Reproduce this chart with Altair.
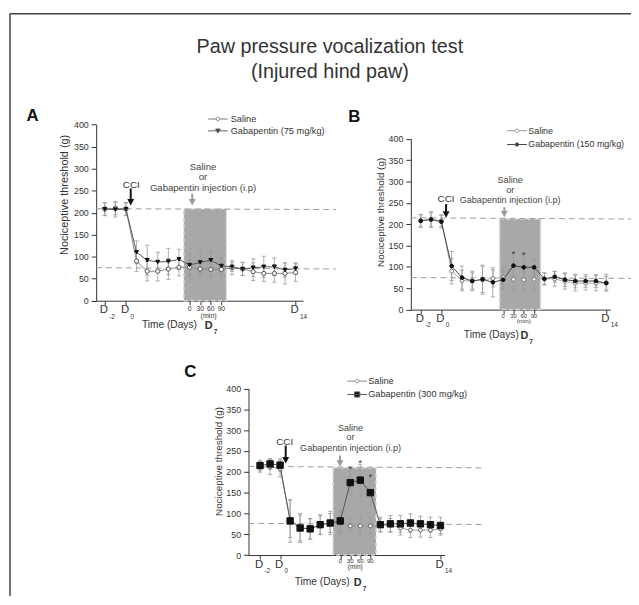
import altair as alt
import pandas as pd

FONT = "Liberation Sans"
TXT = "#333333"
AX = "#333333"

# ---- time course: index of each measured point along the x axis ----
X_IDX = list(range(19))
TIME_POINTS = ["D-2", "D-1", "D0", "D1", "D2", "D3", "D4", "D5",
               "0 min", "30 min", "60 min", "90 min",
               "D8", "D9", "D10", "D11", "D12", "D13", "D14"]

# ---- Panel A : Saline vs Gabapentin 75 mg/kg ----
A_SALINE = [208, 210, 208, 90, 67, 67, 72, 76, 76, 72, 71, 71, 75, 72, 66, 62, 62, 62, 64]
A_SALINE_ERR = [14, 15, 14, 24, 22, 22, 24, 20, 16, 16, 15, 18, 16, 15, 20, 18, 20, 24, 20]
A_GABA = [208, 207, 208, 110, 92, 88, 89, 94, 81, 87, 92, 79, 77, 72, 75, 77, 77, 70, 73]
A_GABA_ERR = [15, 17, 15, 26, 34, 22, 30, 23, 26, 23, 19, 18, 10, 15, 20, 24, 20, 16, 13]

# ---- Panel B : Saline vs Gabapentin 150 mg/kg ----
B_SALINE = [208, 211, 208, 90, 68, 67, 70, 73, 75, 71, 70, 71, 72, 72, 66, 62, 62, 62, 63]
B_SALINE_ERR = [14, 17, 14, 30, 24, 23, 34, 20, 26, 27, 26, 27, 14, 17, 18, 18, 16, 18, 20]
B_GABA = [208, 211, 206, 102, 75, 67, 71, 64, 70, 103, 99, 99, 72, 77, 70, 67, 67, 67, 62]
B_GABA_ERR = [15, 18, 15, 34, 27, 19, 31, 34, 20, 26, 26, 18, 14, 13, 16, 16, 15, 15, 16]
B_STARS_X = [9, 10]
B_STARS_Y = [136, 133]

# ---- Panel C : Saline vs Gabapentin 300 mg/kg ----
C_SALINE = [212, 212, 208, 87, 65, 63, 72, 77, 77, 70, 70, 70, 72, 72, 65, 60, 60, 60, 63]
C_SALINE_ERR = [13, 18, 20, 45, 31, 25, 22, 23, 27, 16, 20, 20, 15, 16, 17, 18, 17, 18, 15]
C_GABA = [215, 219, 216, 82, 65, 63, 73, 77, 82, 174, 180, 150, 73, 75, 75, 77, 75, 73, 71]
C_GABA_ERR = [13, 13, 15, 51, 35, 24, 24, 28, 27, 28, 38, 30, 18, 20, 20, 22, 18, 18, 20]
C_STARS_X = [9, 10, 11]
C_STARS_Y = [212, 226, 194]

# ---- axis label texts ----
DAY_TICKS_X = [0, 2, 18]
DAY_SUBSCRIPTS = ["-2", "0", "14"]
MIN_TICKS_X = [8, 9, 10, 11]
MIN_LABELS = ["0", "30", "60", "90"]
INJ_LINES = ["Saline", "or", "Gabapentin injection (i.p)"]

# legend symbol paths (line with marker)
P_OPEN = "M-2.5,0H-0.5M0.5,0H2.5M0.45,0A0.45,0.45,0,1,1,-0.45,0A0.45,0.45,0,1,1,0.45,0Z"
P_TRI = "M-2.5,0H2.5M-0.6,-0.45L0.6,-0.45L0,0.55Z"
P_DOT = "M-2.5,0H2.5M0.4,0A0.4,0.4,0,1,1,-0.4,0A0.4,0.4,0,1,1,0.4,0Z"
P_SQ = "M-2.5,0H2.5M-0.65,-0.65H0.65V0.65H-0.65Z"
HEAD = "M-1,-1.9L1,-1.9L0,0Z"
CAP = "M-1,0H1"

PANELS = [
    dict(letter="A", letter_pos=(-7.38, 408),
         xdom=[-0.81, 18.7], xr=[87.3, 296.8], yr=[290.7, 112.3],
         xoff=-295.3, yoff=-87.3, yt=(-32.3, 183, 11),
         shade=(7.46, 11.46, 208.5),
         ref=[(-0.81, 21.8, 209, 207), (-0.81, 21.8, 75, 72)],
         series=[
             dict(name="Saline", v=A_SALINE, e=A_SALINE_ERR, shape="circle", size=18,
                  fill="white", stroke="#555555", line="#8a8a8a", leg=P_OPEN, legfill="white", legstroke="#777777"),
             dict(name="Gabapentin (75 mg/kg)", v=A_GABA, e=A_GABA_ERR, shape="triangle-down", size=16,
                  fill="#111111", stroke="#111111", line="#555555", leg=P_TRI, legfill="#111111", legstroke="#666666"),
         ],
         stars=([], []),
         cci=(2.5, 262), arrow_black=(2.45, 255, 216), arrow_gray=(8.25, 243, 216),
         inj_x=9.27, inj_y=[303, 281, 257], inj_fs=9.7,
         offs=dict(D=9.3, sub=16.5, mins=8.3, mn=15, d7=25.5, time=24.3),
         fs=dict(mins=6.8, mn=7.2),
         time_x=6.1, d7_x=9.9, min_x=9.8,
         legend=dict(x=206, y=102, lo=8.3, rp=2, fs=9.3)),
    dict(letter="B", letter_pos=(-7.02, 439),
         xdom=[-0.96, 18.4], xr=[406, 608.1], yr=[299.7, 126.7],
         xoff=-286.3, yoff=-406, yt=(-30.2, 200.7, 10),
         shade=(7.66, 11.62, 212),
         ref=[(-0.96, 20.6, 215, 212), (-0.96, 20.6, 75, 73)],
         series=[
             dict(name="Saline", v=B_SALINE, e=B_SALINE_ERR, shape="circle", size=16,
                  fill="white", stroke="#777777", line="#aaaaaa", leg=P_OPEN, legfill="white", legstroke="#999999"),
             dict(name="Gabapentin (150 mg/kg)", v=B_GABA, e=B_GABA_ERR, shape="circle", size=14,
                  fill="#111111", stroke="#111111", line="#444444", leg=P_DOT, legfill="#111111", legstroke="#444444"),
         ],
         stars=(B_STARS_X, B_STARS_Y),
         cci=(2.46, 258), arrow_black=(2.46, 247, 215), arrow_gray=(8.11, 240, 216),
         inj_x=8.68, inj_y=[303, 281, 257], inj_fs=9.2,
         offs=dict(D=9.3, sub=15.6, mins=6.2, mn=12, d7=27, time=26),
         fs=dict(mins=5.8, mn=6.3),
         time_x=6.85, d7_x=10.15, min_x=10.0,
         legend=dict(x=509, y=114, lo=7, rp=4, fs=9.0)),
    dict(letter="C", letter_pos=(-7.55, 429),
         xdom=[-1.15, 18.4], xr=[241.6, 440.1], yr=[548.3, 379.7],
         xoff=-37.7, yoff=-241.6, yt=(-29.9, 453, 10),
         shade=(7.29, 11.57, 209.5),
         ref=[(-1.15, 22.3, 213, 209.5), (-1.15, 22.3, 76, 73.5)],
         series=[
             dict(name="Saline", v=C_SALINE, e=C_SALINE_ERR, shape="circle", size=15,
                  fill="white", stroke="#666666", line="#999999", leg=P_OPEN, legfill="white", legstroke="#888888"),
             dict(name="Gabapentin (300 mg/kg)", v=C_GABA, e=C_GABA_ERR, shape="square", size=42,
                  fill="#111111", stroke="#111111", line="#555555", leg=P_SQ, legfill="#111111", legstroke="#555555"),
         ],
         stars=(C_STARS_X, C_STARS_Y),
         cci=(2.46, 272), arrow_black=(2.56, 263, 220), arrow_gray=(7.98, 239, 212),
         inj_x=9.03, inj_y=[306, 283, 257], inj_fs=9.2,
         offs=dict(D=10, sub=15.7, mins=6.3, mn=12.6, d7=28, time=27.3),
         fs=dict(mins=6.2, mn=6.6),
         time_x=6.2, d7_x=9.85, min_x=9.5,
         legend=dict(x=347, y=367.5, lo=6.5, rp=3.5, fs=9.3)),
]


def text_layer(df, xs, ys, color=TXT, **kw):
    return alt.Chart(df).mark_text(font=FONT, color=color, **kw).encode(
        x=alt.X("x:Q", scale=xs, axis=None),
        y=alt.Y("y:Q", scale=ys, axis=None),
        text="t:N")


def panel(P):
    xs = alt.Scale(domain=P["xdom"], range=P["xr"], nice=False, zero=False)
    ys = alt.Scale(domain=[0, 400], range=P["yr"], nice=False, zero=False)

    def ex(f):
        return alt.X(f"{f}:Q", scale=xs, axis=None)

    def ey(f):
        return alt.Y(f"{f}:Q", scale=ys, axis=None)

    L = []
    xaxis = alt.Axis(orient="bottom", offset=P["xoff"], values=[0, 2, 8, 9, 10, 11, 18],
                     labels=False, title=None, grid=False, tickSize=4, tickColor=AX,
                     domainColor=AX, domainWidth=1, tickWidth=1)
    yaxis = alt.Axis(orient="left", offset=P["yoff"], values=list(range(0, 401, 50)), grid=False,
                     tickSize=5, labelPadding=3, labelFontSize=9, labelFont=FONT, labelColor=TXT,
                     tickColor=AX, domainColor=AX, domainWidth=1, tickWidth=1,
                     title="Nociceptive threshold (g)", titleFont=FONT, titleFontSize=P["yt"][2],
                     titleFontWeight="normal", titleColor=TXT, titleX=P["yt"][0], titleY=P["yt"][1],
                     titleBaseline="middle", titleAlign="center", titleAngle=270)
    sh = pd.DataFrame({"x0": [P["shade"][0]], "x1": [P["shade"][1]], "y0": [0], "y1": [P["shade"][2]]})
    L.append(alt.Chart(sh).mark_rect(fill="#a8a8a8", stroke="#d6d6d6", strokeDash=[4, 3],
                                     strokeWidth=1.5).encode(
        x=ex("x0"), x2="x1:Q", y=ey("y0"), y2="y1:Q"))
    # axes carrier layer
    axdf = pd.DataFrame({"x": [P["xdom"][0]], "y": [0]})
    L.append(alt.Chart(axdf).mark_point(opacity=0, size=1).encode(
        x=alt.X("x:Q", scale=xs, axis=xaxis), y=alt.Y("y:Q", scale=ys, axis=yaxis)))

    ref = pd.DataFrame(P["ref"], columns=["x0", "x1", "y0", "y1"])
    L.append(alt.Chart(ref).mark_rule(color="#9c9c9c", strokeDash=[6, 4], strokeWidth=1).encode(
        x=ex("x0"), x2="x1:Q", y=ey("y0"), y2="y1:Q"))

    for s in P["series"]:
        df = pd.DataFrame({"x": X_IDX, "t": TIME_POINTS, "y": s["v"], "e": s["e"]})
        df["lo"] = df["y"] - df["e"]
        df["hi"] = df["y"] + df["e"]
        base = alt.Chart(df)
        L.append(base.mark_rule(color="#9a9a9a", strokeWidth=0.8).encode(x=ex("x"), y=ey("lo"), y2="hi:Q"))
        L.append(base.mark_point(shape=CAP, size=18, color="#9a9a9a", strokeWidth=0.8, opacity=1).encode(x=ex("x"), y=ey("lo")))
        L.append(base.mark_point(shape=CAP, size=18, color="#9a9a9a", strokeWidth=0.8, opacity=1).encode(x=ex("x"), y=ey("hi")))
    for s in P["series"]:
        df = pd.DataFrame({"x": X_IDX, "y": s["v"]})
        L.append(alt.Chart(df).mark_line(color=s["line"], strokeWidth=1).encode(x=ex("x"), y=ey("y")))
    for s in P["series"]:
        df = pd.DataFrame({"x": X_IDX, "y": s["v"]})
        L.append(alt.Chart(df).mark_point(shape=s["shape"], size=s["size"], filled=True, fill=s["fill"],
                                          stroke=s["stroke"], strokeWidth=1, opacity=1).encode(x=ex("x"), y=ey("y")))

    if P["stars"][0]:
        st = pd.DataFrame({"x": P["stars"][0], "y": P["stars"][1], "t": ["*"] * len(P["stars"][0])})
        L.append(text_layer(st, xs, ys, fontSize=10, baseline="middle", dy=2.5))

    # annotations
    L.append(text_layer(pd.DataFrame({"x": [P["cci"][0]], "y": [P["cci"][1]], "t": ["CCI"]}), xs, ys,
                        fontSize=10, baseline="middle"))
    inj = pd.DataFrame({"x": [P["inj_x"]] * 3, "y": P["inj_y"], "t": INJ_LINES})
    L.append(text_layer(inj, xs, ys, color="#444444", fontSize=P["inj_fs"], baseline="middle"))
    arr = pd.DataFrame({"x": [P["arrow_black"][0], P["arrow_gray"][0]],
                        "y0": [P["arrow_black"][1], P["arrow_gray"][1]],
                        "y1": [P["arrow_black"][2] + 8, P["arrow_gray"][2] + 8],
                        "tip": [P["arrow_black"][2], P["arrow_gray"][2]],
                        "c": ["#111111", "#9a9a9a"]})
    L.append(alt.Chart(arr).mark_rule(strokeWidth=2).encode(
        x=ex("x"), y=ey("y0"), y2="y1:Q", color=alt.Color("c:N", scale=None)))
    L.append(alt.Chart(arr).mark_point(shape=HEAD, size=49, filled=True, opacity=1, strokeWidth=0).encode(
        x=ex("x"), y=ey("tip"), color=alt.Color("c:N", scale=None)))

    o = P["offs"]
    dlab = pd.DataFrame({"x": DAY_TICKS_X, "y": [0] * 3, "t": ["D"] * 3})
    L.append(text_layer(dlab, xs, ys, fontSize=11.5, baseline="middle", dy=o["D"], dx=-1))
    dsub = pd.DataFrame({"x": DAY_TICKS_X, "y": [0] * 3, "t": DAY_SUBSCRIPTS})
    L.append(text_layer(dsub, xs, ys, fontSize=6.5, baseline="middle", align="left", dy=o["sub"], dx=4.5))
    mlab = pd.DataFrame({"x": MIN_TICKS_X, "y": [0] * 4, "t": MIN_LABELS})
    L.append(text_layer(mlab, xs, ys, fontSize=P["fs"]["mins"], baseline="middle", dy=o["mins"]))
    L.append(text_layer(pd.DataFrame({"x": [P["min_x"]], "y": [0], "t": ["(min)"]}), xs, ys,
                        fontSize=P["fs"]["mn"], baseline="middle", dy=o["mn"]))
    L.append(text_layer(pd.DataFrame({"x": [P["time_x"]], "y": [0], "t": ["Time (Days)"]}), xs, ys,
                        fontSize=10.3, baseline="middle", dy=o["time"]))
    L.append(text_layer(pd.DataFrame({"x": [P["d7_x"]], "y": [0], "t": ["D"]}), xs, ys,
                        fontSize=11, fontWeight="bold", baseline="middle", dy=o["d7"], dx=-1))
    L.append(text_layer(pd.DataFrame({"x": [P["d7_x"]], "y": [0], "t": ["7"]}), xs, ys,
                        fontSize=6.5, fontWeight="bold", baseline="middle", align="left", dy=o["d7"] + 6, dx=4))
    L.append(text_layer(pd.DataFrame({"x": [P["letter_pos"][0]], "y": [P["letter_pos"][1]], "t": [P["letter"]]}),
                        xs, ys, color="#111111", fontSize=17, fontWeight="bold", align="left", baseline="alphabetic"))

    # legend
    names = [s["name"] for s in P["series"]]
    lg = P["legend"]
    leg = alt.Legend(orient="none", legendX=lg["x"], legendY=lg["y"], title=None, labelFont=FONT,
                     labelFontSize=lg["fs"], labelColor=TXT, symbolSize=64, labelOffset=lg["lo"],
                     rowPadding=lg["rp"], symbolStrokeWidth=1, padding=0)
    ldf = pd.DataFrame({"series": names})
    L.append(alt.Chart(ldf).transform_filter("false").mark_point(filled=True, opacity=1).encode(
        shape=alt.Shape("series:N", scale=alt.Scale(domain=names, range=[s["leg"] for s in P["series"]]), legend=leg),
        fill=alt.Fill("series:N", scale=alt.Scale(domain=names, range=[s["legfill"] for s in P["series"]]), legend=leg),
        stroke=alt.Stroke("series:N", scale=alt.Scale(domain=names, range=[s["legstroke"] for s in P["series"]]), legend=leg),
    ))
    return L


one = pd.DataFrame({"k": [0]})
border_top = alt.Chart(one).mark_rule(color="#444444", strokeWidth=1.5).encode(
    x=alt.value(0), x2=alt.value(640), y=alt.value(0))
border_left = alt.Chart(one).mark_rule(color="#444444", strokeWidth=1.5).encode(
    x=alt.value(0), y=alt.value(0), y2=alt.value(600))

all_layers = [border_top, border_left]
for P in PANELS:
    all_layers.extend(panel(P))

chart = alt.layer(*all_layers).resolve_scale(
    x="independent", y="independent", shape="independent", fill="independent", stroke="independent"
).resolve_axis(x="independent", y="independent").resolve_legend(
    shape="independent", fill="independent", stroke="independent"
).properties(
    width=621, height=586,
    autosize=alt.AutoSizeParams(type="none"),
    padding={"left": 2, "top": 2, "right": 8, "bottom": 0},
    title=alt.TitleParams(text=["Paw pressure vocalization test", "(Injured hind paw)"], fontSize=20,
                          font=FONT, fontWeight="normal", color="#333333", anchor="middle", frame="group",
                          offset=-70, dx=13.5, lineHeight=25.5),
).configure_view(stroke=None)

chart.save("out.html", embed_options={"renderer": "svg", "actions": False})
